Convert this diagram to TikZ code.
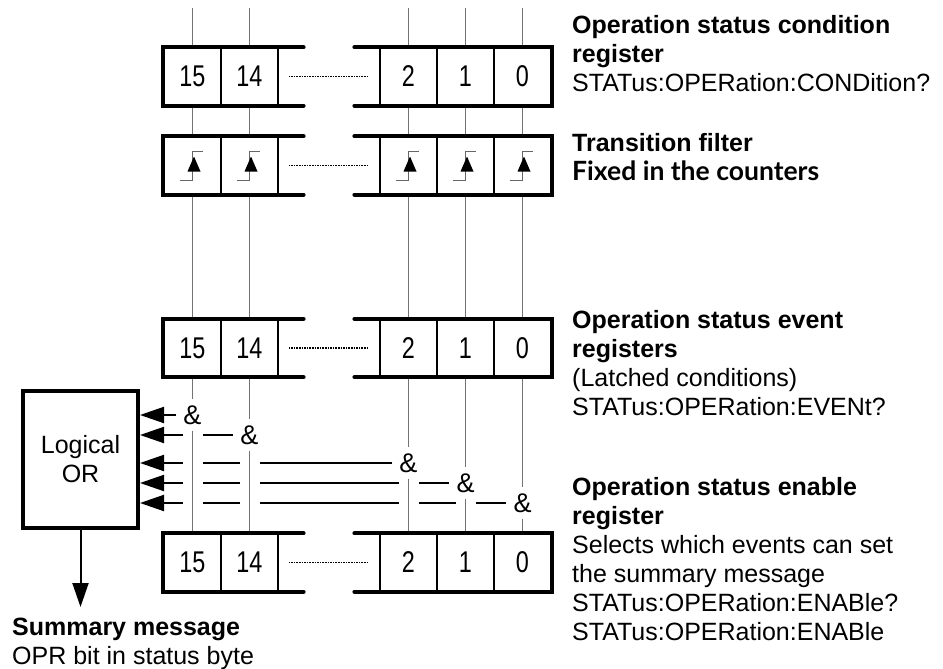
\documentclass[tikz,border=0pt]{standalone}
\usepackage{fontspec}
\setmainfont{Liberation Sans}
\newfontfamily\bitfont[FakeStretch=0.78]{Liberation Sans}
\newfontfamily\gillfont{Lato}
\usetikzlibrary{arrows.meta, positioning, calc}

\begin{document}
\begin{tikzpicture}[x=1pt, y=-1pt,
    font=\fontsize{25}{29}\selectfont,
    cell/.style={
        draw,
        fill=white,
        minimum width=57pt,
        minimum height=57pt,
        inner sep=0pt,
        line width=1.2pt,
        font=\bitfont\fontsize{30}{30}\selectfont
    },
    regframe/.style={
        line width=4pt,
        line cap=round
    },
    dotline/.style={
        line width=1.6pt,
        dash pattern=on 1.6pt off 1pt
    },
    sigline/.style={
        draw=black!55,
        line width=1pt
    },
    crossline/.style={
        sigline,
        preaction={draw=white, line width=20pt}
    },
    stepline/.style={
        draw=black!60,
        line width=1pt
    },
    andgate/.style={
        fill=white,
        inner xsep=7pt,
        inner ysep=6pt,
        font=\fontsize{27}{27}\selectfont
    },
    orbox/.style={
        draw,
        line width=4pt,
        minimum width=115pt,
        minimum height=137pt,
        align=center
    },
    flow/.style={
        -{Triangle[length=24pt,width=16pt]},
        line width=2pt
    },
    desc/.style={
        align=left,
        inner sep=0pt,
        anchor=north west
    }
]

\useasboundingbox (0,0) rectangle (943,669);

% =====================
% Registers
% =====================

\foreach \reg/\y in {cond/76.5, evnt/348, enab/562.5} {
    \foreach \b/\x in {15/192.5, 14/249.5, 2/408.5, 1/465.5, 0/522.5}
        \node[cell] (\reg-\b) at (\x,\y) {\b};
}

% transition filter cells
\foreach \b/\x in {15/192.5, 14/249.5, 2/408.5, 1/465.5, 0/522.5} {
    \node[cell] (filt-\b) at (\x,165.5) {};
    \draw[stepline] ($(filt-\b)+(-13,14.5)$) -- ++(13,0) -- ++(0,-28.5) -- ++(10,0);
    \fill ($(filt-\b)+(1.5,-9)$) -- ++(-6.5,15) -- ++(13,0) -- cycle;
}

% =====================
% AND gates and logical OR
% =====================

\foreach \b/\x/\y in {15/192.5/415, 14/249.5/435, 2/408.5/463, 1/465.5/483, 0/522.5/503}
    \node[andgate] (and\b) at (\x,\y) {\&};

\node[orbox] (or) at (80.5,459.5) {Logical\\OR};

\foreach \b in {15,14,2,1,0}
    \draw[flow] (and\b.west) -- (and\b.west -| or.east);

\coordinate (opr) at (80.5,607);
\draw[flow] (or.south) -- (opr);

% =====================
% Bit lines
% =====================

\foreach \b/\x in {15/192.5, 14/249.5, 2/408.5, 1/465.5, 0/522.5} {
    \coordinate (top-\b) at (\x,8);
    \draw[sigline] (top-\b) -- (cond-\b.north);
    \draw[sigline] (cond-\b.south) -- (filt-\b.north);
    \draw[sigline] (filt-\b.south) -- (evnt-\b.north);
    \draw[sigline] (evnt-\b.south) -- (and\b.north);
    \draw[crossline] (and\b.south) -- (enab-\b.north);
}

% register outlines
\foreach \reg in {cond, filt, evnt, enab} {
    \draw[regframe] ($(\reg-14.north east)+(25,0)$) -- (\reg-15.north west)
        -- (\reg-15.south west) -- ($(\reg-14.south east)+(25,0)$);
    \draw[regframe] ($(\reg-2.north west)+(-25,0)$) -- (\reg-0.north east)
        -- (\reg-0.south east) -- ($(\reg-2.south west)+(-25,0)$);
    \draw[dotline] ($(\reg-14.east)+(10,0)$) -- ($(\reg-2.west)+(-12,0)$);
}

% =====================
% Descriptions
% =====================

\node[desc] (condtxt) at (572,15) {\textbf{Operation status condition}\\
    \textbf{register}\\STATus:OPERation:CONDition?};
\node[desc] (filttxt) at (572,133) {\textbf{Transition filter}\\
    {\gillfont\bfseries\fontsize{26.5}{29}\selectfont Fixed in the counters}};
\node[desc] (evnttxt) at (572,310) {\textbf{Operation status event}\\
    \textbf{registers}\\(Latched conditions)\\STATus:OPERation:EVENt?};
\node[desc] (enabtxt) at (572,477) {\textbf{Operation status enable}\\
    \textbf{register}\\Selects which events can set\\the summary message\\
    STATus:OPERation:ENABle?\\STATus:OPERation:ENABle};
\node[desc] (summtxt) at (12,618) {\textbf{Summary message}\\OPR bit in status byte};

\end{tikzpicture}
\end{document}
